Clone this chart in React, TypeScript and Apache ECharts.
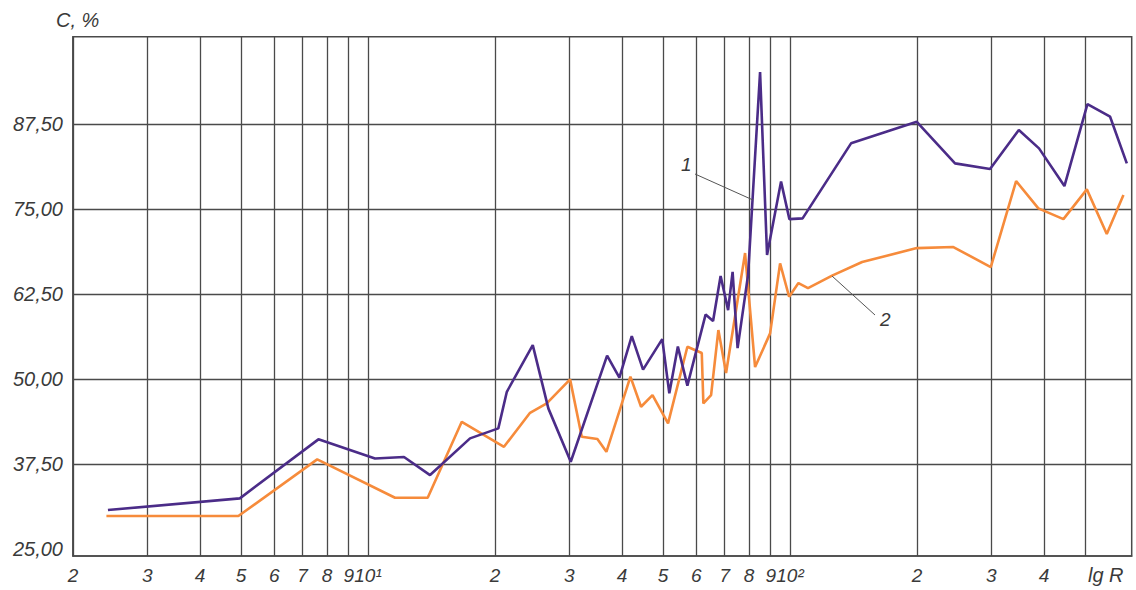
import React, { useEffect, useRef } from "react";
import * as echarts from "echarts";

// Curve 1 (purple): R values and C, %
const rCurve1 = [2.42, 4.97, 7.63, 10.39, 12.17, 14.03, 17.45, 20.36, 21.33, 24.57, 26.75, 30.23, 36.86, 39.42, 42.17, 44.85, 49.8, 51.76, 54.23, 57.12, 63.08, 65.71, 68.47, 71.33, 73.1, 75.12, 79.54, 84.92, 88.22, 95.22, 99.65, 107.1, 139.5, 199.7, 246, 297.8, 348.4, 389, 446.8, 506.6, 573.3, 628];
const cCurve1 = [30.75, 32.47, 41.14, 38.32, 38.54, 35.89, 41.28, 42.75, 48.13, 54.99, 45.69, 37.85, 53.45, 50.22, 56.31, 51.39, 55.87, 47.9, 54.77, 49.04, 59.47, 58.52, 65.13, 60.13, 65.76, 54.55, 65.28, 95.1, 68.22, 79.01, 73.5, 73.61, 84.63, 87.8, 81.69, 80.85, 86.58, 83.89, 78.35, 90.4, 88.54, 81.69];

// Curve 2 (orange)
const rCurve2 = [2.4, 4.93, 7.58, 11.59, 13.85, 16.68, 21.0, 24.21, 26.52, 30.12, 32.1, 34.96, 36.72, 41.86, 44.36, 47.22, 51.4, 57.12, 61.78, 62.32, 65.0, 67.64, 70.54, 78.25, 82.64, 89.7, 94.72, 99.5, 104.7, 110.3, 125.8, 148.2, 199.7, 243.8, 299, 343.3, 387.6, 444.4, 505, 563, 616.6];
const cCurve2 = [29.87, 29.87, 38.2, 32.56, 32.56, 43.72, 40.05, 45.04, 46.43, 49.95, 41.52, 41.18, 39.31, 50.36, 45.93, 47.65, 43.49, 54.74, 53.82, 46.43, 47.65, 57.2, 50.88, 68.51, 51.76, 56.71, 67.0, 62.09, 64.1, 63.37, 65.2, 67.19, 69.24, 69.39, 66.45, 79.09, 75.08, 73.5, 77.87, 71.3, 77.03];

// Axis ticks
const xTicks = [2, 3, 4, 5, 6, 7, 8, 9, 10, 20, 30, 40, 50, 60, 70, 80, 90, 100, 200, 300, 400, 500];
const xTickLabels = ["2", "3", "4", "5", "6", "7", "8", "9", "10¹", "2", "3", "4", "5", "6", "7", "8", "9", "10²", "2", "3", "4", ""];
const yGridTicks = [37.5, 50, 62.5, 75, 87.5];
const yLabelTicks = [25, 37.5, 50, 62.5, 75, 87.5];

const FONT = "'Liberation Sans', Arial, sans-serif";
const GRID_COLOR = "#4a4a4a";
const TEXT_COLOR = "#3a3a3a";

export default function App() {
  const ref = useRef<HTMLDivElement>(null);

  useEffect(() => {
    if (!ref.current) return;
    const chart = echarts.init(ref.current, null, { renderer: "svg" });
    const option: any = {
      animation: false,
      backgroundColor: "#ffffff",
      grid: {
        left: 73,
        right: 4.3,
        top: 36.7,
        bottom: 34,
        show: true,
        borderColor: GRID_COLOR,
        borderWidth: 1.5,
        backgroundColor: "transparent",
      },
      xAxis: {
        type: "log",
        logBase: 10,
        min: 2,
        max: 645,
        axisLine: { show: true, lineStyle: { color: GRID_COLOR, width: 1.5 } },
        axisTick: { show: false, customValues: xTicks },
        splitLine: { show: true, lineStyle: { color: GRID_COLOR, width: 1.3 } },
        axisLabel: {
          customValues: xTicks,
          margin: 10,
          color: TEXT_COLOR,
          fontSize: 19,
          fontStyle: "italic",
          fontFamily: FONT,
          formatter: (v: number) => {
            const i = xTicks.findIndex((t) => Math.abs(t - v) < 1e-6 * t);
            return i >= 0 ? xTickLabels[i] : "";
          },
        },
      },
      yAxis: {
        type: "value",
        min: 24,
        max: 100.3,
        axisLine: { show: true, lineStyle: { color: GRID_COLOR, width: 1.5 } },
        axisTick: { show: false, customValues: yGridTicks },
        splitLine: { show: true, lineStyle: { color: GRID_COLOR, width: 1.3 } },
        axisLabel: {
          customValues: yLabelTicks,
          margin: 10,
          color: TEXT_COLOR,
          fontSize: 20,
          fontStyle: "italic",
          fontFamily: FONT,
          formatter: (v: number) => v.toFixed(2).replace(".", ","),
        },
      },
      series: [
        {
          name: "1",
          type: "line",
          symbol: "none",
          data: rCurve1.map((r, i) => [r, cCurve1[i]]),
          lineStyle: { color: "#4b2c88", width: 2.6 },
          z: 3,
        },
        {
          name: "2",
          type: "line",
          symbol: "none",
          data: rCurve2.map((r, i) => [r, cCurve2[i]]),
          lineStyle: { color: "#f68b3b", width: 2.6 },
          z: 2,
        },
      ],
      graphic: [
        {
          type: "text",
          left: 56,
          top: 10,
          style: { text: "C, %", fill: TEXT_COLOR, fontSize: 20, fontStyle: "italic", fontFamily: FONT },
        },
        {
          type: "text",
          left: 1088,
          top: 565,
          style: { text: "lg R", fill: TEXT_COLOR, fontSize: 20, fontStyle: "italic", fontFamily: FONT },
        },
        {
          type: "text",
          left: 681,
          top: 155,
          style: { text: "1", fill: TEXT_COLOR, fontSize: 19, fontStyle: "italic", fontFamily: FONT },
        },
        {
          type: "text",
          left: 880,
          top: 310,
          style: { text: "2", fill: TEXT_COLOR, fontSize: 19, fontStyle: "italic", fontFamily: FONT },
        },
        {
          type: "line",
          shape: { x1: 695, y1: 174, x2: 753, y2: 200 },
          style: { stroke: "#555555", lineWidth: 1 },
          z: 10,
        },
        {
          type: "line",
          shape: { x1: 832, y1: 276, x2: 875, y2: 315 },
          style: { stroke: "#555555", lineWidth: 1 },
          z: 10,
        },
      ],
    };
    chart.setOption(option);
    return () => chart.dispose();
  }, []);

  return (
    <div
      ref={ref}
      style={{ position: "fixed", left: 0, top: 0, width: 1136, height: 590, background: "#fff" }}
    />
  );
}
